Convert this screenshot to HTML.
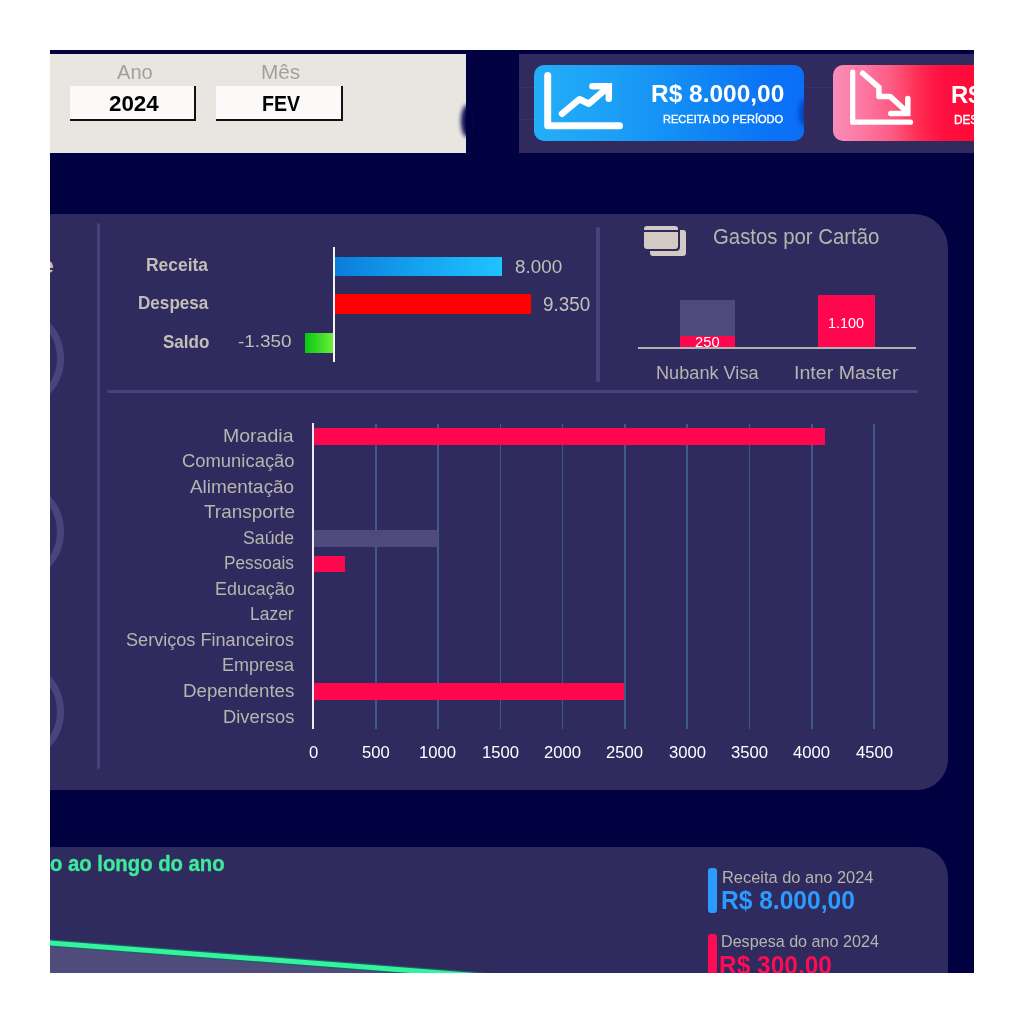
<!DOCTYPE html>
<html><head><meta charset="utf-8">
<style>
html,body{margin:0;padding:0;}
body{width:1024px;height:1024px;background:#fff;position:relative;overflow:hidden;font-family:"Liberation Sans",sans-serif;}
.a{position:absolute;}
.t{position:absolute;white-space:nowrap;line-height:1;transform-origin:0 0;font-family:"Liberation Sans",sans-serif;}
#clip{position:absolute;left:50px;top:50px;width:924px;height:923px;background:#010040;overflow:hidden;}
#pg{position:absolute;left:-50px;top:-50px;width:1024px;height:1024px;}
.grid{position:absolute;top:423.5px;height:305px;width:1.7px;background:#3f5c88;}
.ring{position:absolute;left:-40.6px;width:91px;height:91px;border:7.5px solid #47447e;border-radius:50%;}
</style></head>
<body>
<div id="clip"><div id="pg">
  <!-- header gray panel -->
  <div class="a" style="left:50px;top:54px;width:416px;height:98.5px;background:#e9e6e2;"></div>
  <div class="a" style="left:70px;top:86px;width:124px;height:32.5px;background:#fbfaf8;border-right:2.5px solid #121212;border-bottom:2px solid #121212;"></div>
  <div class="a" style="left:216px;top:86px;width:124.5px;height:32.5px;background:#fbfaf8;border-right:2.5px solid #121212;border-bottom:2px solid #121212;"></div>
  <div class="a" style="left:461px;top:105px;width:12px;height:32px;border-radius:50%;background:#0a0850;filter:blur(2.2px);"></div>
  <div class="a" style="left:466px;top:54px;width:6px;height:98.5px;background:#010040;"></div>
  <!-- purple header strip -->
  <div class="a" style="left:519px;top:54px;width:460px;height:98.5px;background:#302a5e;"></div>
  <div class="a" style="left:519px;top:86.5px;width:460px;height:1px;background:#37316a;"></div>
  <div class="a" style="left:519px;top:118.5px;width:15px;height:1px;background:#37316a;"></div>
  <!-- blue card -->
  <div class="a" style="left:533.5px;top:65px;width:270.5px;height:76px;border-radius:10px;background:linear-gradient(90deg,#22aef8 0%,#1c9ff7 30%,#1390f5 50%,#0b74f5 85%,#0a6ff8 100%);overflow:hidden;"><div class="a" style="left:265px;top:35px;width:11px;height:26px;border-radius:50%;background:#0038a8;filter:blur(2.5px);opacity:0.75;"></div></div>
    <svg class="a" style="left:533px;top:65px" width="100" height="76" viewBox="533 65 100 76">
    <path d="M547.7 75.5 V125.7 H619.5" fill="none" stroke="#fff" stroke-width="7" stroke-linecap="round" stroke-linejoin="round"/>
    <path d="M562 113.8 L579.5 99.3 L588.8 103.7 L606 89" fill="none" stroke="#fff" stroke-width="6.5" stroke-linecap="round" stroke-linejoin="round"/>
    <path d="M592.4 86.3 H608.8 V98.7" fill="none" stroke="#fff" stroke-width="6.5" stroke-linecap="round" stroke-linejoin="miter"/>
  </svg>
  <!-- red card -->
  <div class="a" style="left:833px;top:65px;width:271px;height:75.5px;border-radius:10px;background:linear-gradient(90deg,#fa8db8 0%,#fc76a0 12%,#fd5a82 22%,#ff2a50 32%,#ff1040 40%,#ff0530 60%,#ff0028 100%);"></div>
  <svg class="a" style="left:833px;top:65px" width="100" height="76" viewBox="833 65 100 76">
    <path d="M852.7 72 V122.2 H910.5" fill="none" stroke="#fff" stroke-width="5.2" stroke-linecap="round" stroke-linejoin="round"/>
    <path d="M862.7 73.2 L878.9 87.4 V96.4 H890 L906 111" fill="none" stroke="#fff" stroke-width="5.5" stroke-linecap="round" stroke-linejoin="round"/>
    <path d="M907.8 98.6 V113.4 H890.8" fill="none" stroke="#fff" stroke-width="5.5" stroke-linecap="round" stroke-linejoin="miter"/>
  </svg>

  <!-- main panel -->
  <div class="a" style="left:-10px;top:214px;width:958px;height:576px;border-radius:34px 34px 31px 31px;background:#302b5f;"></div>
  <div class="ring" style="top:305.5px;"></div>
  <div class="ring" style="top:479px;"></div>
  <div class="ring" style="top:659px;"></div>
  <div class="a" style="left:96.5px;top:223px;width:3px;height:546px;background:#46427a;border-radius:1.5px;"></div>
  <div class="a" style="left:107px;top:390px;width:811px;height:3px;background:#46427a;border-radius:1.5px;"></div>
  <div class="a" style="left:596px;top:227px;width:3.5px;height:155px;background:#46427a;border-radius:1.5px;"></div>
  <!-- summary bars -->
  <div class="a" style="left:335px;top:257px;width:167px;height:18.6px;background:linear-gradient(90deg,#0a7ddc,#16a6f2 55%,#1ec3ff);"></div>
  <div class="a" style="left:335px;top:294.4px;width:196px;height:20px;background:#ff0000;"></div>
  <div class="a" style="left:305px;top:332.5px;width:28.5px;height:20px;background:linear-gradient(90deg,#08c614,#30d820 40%,#6fef3a);"></div>
  <div class="a" style="left:333px;top:247px;width:2.2px;height:115px;background:#f4f4f4;"></div>
  <!-- card icon -->
  <div class="a" style="left:650px;top:230px;width:36px;height:25.5px;border-radius:3px;background:#d3cbc3;"></div>
  <div class="a" style="left:642px;top:223.8px;width:37.5px;height:27px;border-radius:4px;background:#302b5f;"></div>
  <div class="a" style="left:644px;top:225.8px;width:33.5px;height:4.3px;border-radius:3px 3px 0 0;background:#d3cbc3;"></div>
  <div class="a" style="left:644px;top:232.2px;width:33.5px;height:16.5px;border-radius:0 0 3px 3px;background:#d3cbc3;"></div>
  <!-- card bars -->
  <div class="a" style="left:679.6px;top:300px;width:55.6px;height:47.5px;background:#4f4a7c;"></div>
  <div class="a" style="left:679.6px;top:335.6px;width:55.6px;height:12px;background:#ff074f;"></div>
  <div class="a" style="left:818.3px;top:295px;width:56.3px;height:52.5px;background:#ff074f;"></div>
  <div class="a" style="left:637.7px;top:347px;width:278.5px;height:2px;background:#b3b1b1;"></div>
  <!-- category chart -->
  <div class="grid" style="left:374.9px"></div>
  <div class="grid" style="left:437.2px"></div>
  <div class="grid" style="left:499.5px"></div>
  <div class="grid" style="left:561.8px"></div>
  <div class="grid" style="left:624.1px"></div>
  <div class="grid" style="left:686.4px"></div>
  <div class="grid" style="left:748.7px"></div>
  <div class="grid" style="left:811px"></div>
  <div class="grid" style="left:873.3px"></div>
  <div class="a" style="left:314px;top:428px;width:510.5px;height:17px;background:#ff074f;"></div>
  <div class="a" style="left:314px;top:530px;width:124.3px;height:16.5px;background:#4f4a7c;"></div>
  <div class="a" style="left:314px;top:555.5px;width:31px;height:16.5px;background:#ff074f;"></div>
  <div class="a" style="left:314px;top:683px;width:310.4px;height:17px;background:#ff074f;"></div>
  <div class="a" style="left:312.4px;top:423.4px;width:2px;height:306px;background:#ececf4;"></div>

  <!-- bottom panel -->
  <div class="a" style="left:-10px;top:847px;width:958px;height:300px;border-radius:30px;background:#302b5f;"></div>
  <svg class="a" style="left:0;top:900px" width="1024" height="124" viewBox="0 900 1024 124">
    <path d="M40 942.2 L1000 1015.6 L1000 1030 L40 1030 Z" fill="#4f4b7b"/>
    <path d="M40 942.2 L1000 1015.6" stroke="#1f5e6a" stroke-width="7.4"/>
    <path d="M40 942.2 L1000 1015.6" stroke="#33f39c" stroke-width="5"/>
  </svg>
  <div class="a" style="left:707.8px;top:868.3px;width:9.3px;height:44.6px;border-radius:3px;background:#2b9bff;"></div>
  <div class="a" style="left:707.8px;top:933.8px;width:9.3px;height:60px;border-radius:3px;background:#ff0a55;"></div>
<div class="t" style="left:116.50px;top:61.68px;font-size:20.145px;font-weight:400;color:#a39f9b;transform:scaleX(0.9985);">Ano</div>
<div class="t" style="left:260.84px;top:61.68px;font-size:20.145px;font-weight:400;color:#a39f9b;transform:scaleX(1.0321);">Mês</div>
<div class="t" style="left:109.22px;top:92.98px;font-size:22.394px;font-weight:700;color:#000;transform:scaleX(0.9994);">2024</div>
<div class="t" style="left:261.73px;top:93.11px;font-size:21.884px;font-weight:700;color:#000;transform:scaleX(0.8944);">FEV</div>
<div class="t" style="left:650.61px;top:82.23px;font-size:24.348px;font-weight:700;color:#ffffff;transform:scaleX(1.0051);">R$ 8.000,00</div>
<div class="t" style="left:663.32px;top:113.55px;font-size:11.304px;font-weight:400;color:#ffffff;transform:scaleX(0.9781);-webkit-text-stroke:0.35px #fff">RECEITA DO PERÍODO</div>
<div class="t" style="left:950.75px;top:82.72px;font-size:23.768px;font-weight:700;color:#ffffff;transform:scaleX(1.0051);">R$ 9.350,00</div>
<div class="t" style="left:953.56px;top:113.54px;font-size:12.029px;font-weight:400;color:#ffffff;transform:scaleX(0.9781);-webkit-text-stroke:0.35px #fff">DESPESA DO PERÍODO</div>
<div class="t" style="left:-100.40px;top:255.88px;font-size:21.321px;font-weight:700;color:#c4c0cc;transform:scaleX(1.0000);">Saldo Mensal e</div>
<div class="t" style="left:146.27px;top:256.18px;font-size:18.841px;font-weight:700;color:#c3bfb8;transform:scaleX(0.9266);">Receita</div>
<div class="t" style="left:137.99px;top:294.49px;font-size:18.116px;font-weight:700;color:#c3bfb8;transform:scaleX(0.9447);">Despesa</div>
<div class="t" style="left:162.69px;top:331.71px;font-size:19.275px;font-weight:700;color:#c3bfb8;transform:scaleX(0.8852);">Saldo</div>
<div class="t" style="left:238.25px;top:333.72px;font-size:16.901px;font-weight:400;color:#c3bfb8;transform:scaleX(1.1188);">-1.350</div>
<div class="t" style="left:515.25px;top:257.01px;font-size:19.155px;font-weight:400;color:#c3bfb8;transform:scaleX(0.9837);">8.000</div>
<div class="t" style="left:542.65px;top:295.40px;font-size:19.296px;font-weight:400;color:#c3bfb8;transform:scaleX(0.9765);">9.350</div>
<div class="t" style="left:712.68px;top:226.32px;font-size:21.159px;font-weight:400;color:#b8b4ae;transform:scaleX(0.9628);">Gastos por Cartão</div>
<div class="t" style="left:695.26px;top:335.64px;font-size:13.803px;font-weight:400;color:#ffffff;transform:scaleX(1.0684);">250</div>
<div class="t" style="left:828.12px;top:315.27px;font-size:15.070px;font-weight:400;color:#ffffff;transform:scaleX(0.9578);">1.100</div>
<div class="t" style="left:655.55px;top:363.62px;font-size:18.551px;font-weight:400;color:#b8b4ae;transform:scaleX(0.9784);">Nubank Visa</div>
<div class="t" style="left:794.14px;top:363.62px;font-size:18.551px;font-weight:400;color:#b8b4ae;transform:scaleX(1.0565);">Inter Master</div>
<div class="t" style="left:223.34px;top:426.57px;font-size:18.261px;font-weight:400;color:#b8b4ae;transform:scaleX(1.0689);">Moradia</div>
<div class="t" style="left:181.98px;top:452.11px;font-size:18.261px;font-weight:400;color:#b8b4ae;transform:scaleX(1.0088);">Comunicação</div>
<div class="t" style="left:190.41px;top:477.66px;font-size:18.261px;font-weight:400;color:#b8b4ae;transform:scaleX(1.0370);">Alimentação</div>
<div class="t" style="left:203.63px;top:503.20px;font-size:18.261px;font-weight:400;color:#b8b4ae;transform:scaleX(1.0385);">Transporte</div>
<div class="t" style="left:243.40px;top:528.75px;font-size:18.261px;font-weight:400;color:#b8b4ae;transform:scaleX(0.9701);">Saúde</div>
<div class="t" style="left:224.42px;top:554.29px;font-size:18.261px;font-weight:400;color:#b8b4ae;transform:scaleX(0.9451);">Pessoais</div>
<div class="t" style="left:214.76px;top:579.84px;font-size:18.261px;font-weight:400;color:#b8b4ae;transform:scaleX(0.9825);">Educação</div>
<div class="t" style="left:250.40px;top:605.38px;font-size:18.261px;font-weight:400;color:#b8b4ae;transform:scaleX(0.9563);">Lazer</div>
<div class="t" style="left:126.39px;top:630.93px;font-size:18.261px;font-weight:400;color:#b8b4ae;transform:scaleX(0.9917);">Serviços Financeiros</div>
<div class="t" style="left:221.86px;top:656.47px;font-size:18.261px;font-weight:400;color:#b8b4ae;transform:scaleX(0.9849);">Empresa</div>
<div class="t" style="left:183.10px;top:682.02px;font-size:18.261px;font-weight:400;color:#b8b4ae;transform:scaleX(1.0257);">Dependentes</div>
<div class="t" style="left:223.03px;top:707.56px;font-size:18.261px;font-weight:400;color:#b8b4ae;transform:scaleX(1.0053);">Diversos</div>
<div class="t" style="left:308.87px;top:744.48px;font-size:16.479px;font-weight:400;color:#ffffff;transform:scaleX(1.0124);">0</div>
<div class="t" style="left:361.87px;top:744.48px;font-size:16.479px;font-weight:400;color:#ffffff;transform:scaleX(1.0124);">500</div>
<div class="t" style="left:419.25px;top:744.48px;font-size:16.479px;font-weight:400;color:#ffffff;transform:scaleX(1.0124);">1000</div>
<div class="t" style="left:481.55px;top:744.48px;font-size:16.479px;font-weight:400;color:#ffffff;transform:scaleX(1.0124);">1500</div>
<div class="t" style="left:544.06px;top:744.48px;font-size:16.479px;font-weight:400;color:#ffffff;transform:scaleX(1.0124);">2000</div>
<div class="t" style="left:606.36px;top:744.48px;font-size:16.479px;font-weight:400;color:#ffffff;transform:scaleX(1.0124);">2500</div>
<div class="t" style="left:668.74px;top:744.48px;font-size:16.479px;font-weight:400;color:#ffffff;transform:scaleX(1.0124);">3000</div>
<div class="t" style="left:731.04px;top:744.48px;font-size:16.479px;font-weight:400;color:#ffffff;transform:scaleX(1.0124);">3500</div>
<div class="t" style="left:793.47px;top:744.48px;font-size:16.479px;font-weight:400;color:#ffffff;transform:scaleX(1.0124);">4000</div>
<div class="t" style="left:855.77px;top:744.48px;font-size:16.479px;font-weight:400;color:#ffffff;transform:scaleX(1.0124);">4500</div>
<div class="t" style="left:49.69px;top:852.05px;font-size:22.897px;font-weight:700;color:#3de99a;transform:scaleX(0.8868);-webkit-text-stroke:0.4px #3de99a">o ao longo do ano</div>
<div class="t" style="left:722.39px;top:868.58px;font-size:16.232px;font-weight:400;color:#b8b4ae;transform:scaleX(1.0119);">Receita do ano 2024</div>
<div class="t" style="left:720.70px;top:887.52px;font-size:25.652px;font-weight:700;color:#2b9bff;transform:scaleX(0.9576);">R$ 8.000,00</div>
<div class="t" style="left:720.61px;top:933.48px;font-size:16.232px;font-weight:400;color:#b8b4ae;transform:scaleX(0.9946);">Despesa do ano 2024</div>
<div class="t" style="left:718.81px;top:952.52px;font-size:25.652px;font-weight:700;color:#ff0a55;transform:scaleX(0.9543);">R$ 300,00</div>
</div></div>
</body></html>
